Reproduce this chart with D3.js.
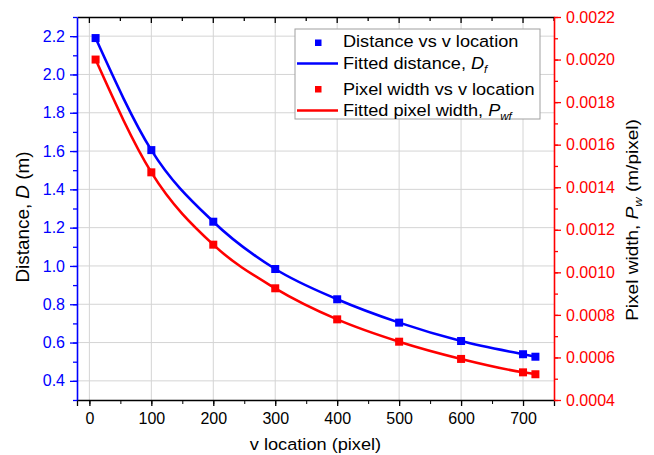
<!DOCTYPE html>
<html>
<head>
<meta charset="utf-8">
<script src="https://cdn.jsdelivr.net/npm/d3@7"></script>
<style>
  html, body { margin: 0; padding: 0; background: #fff; }
  svg { display: block; font-family: "Liberation Sans", Arial, sans-serif; }
</style>
</head>
<body>
<svg id="chart" width="654" height="455"></svg>
<script>
// v location of each measured row (pixel)
const vLocation = [10, 100, 200, 300, 400, 500, 600, 700, 720];
// measured distance D (m)
const distance = [2.19, 1.605, 1.231, 0.984, 0.826, 0.704, 0.608, 0.539, 0.526];
// measured pixel width Pw (m/pixel)
const pixelWidth = [0.00200, 0.00147, 0.00113, 0.000925, 0.000779, 0.000674, 0.000593, 0.000530, 0.000521];

const xTicks = [0, 100, 200, 300, 400, 500, 600, 700];
const dTicks = [0.4, 0.6, 0.8, 1.0, 1.2, 1.4, 1.6, 1.8, 2.0, 2.2];
const pTicks = [0.0004, 0.0006, 0.0008, 0.0010, 0.0012, 0.0014, 0.0016, 0.0018, 0.0020, 0.0022];

const BLUE = "#0000ff", RED = "#ff0000";
const svg = d3.select("#chart");
const L = 77, R = 554, T = 17, B = 400;

const x = d3.scaleLinear().domain([-20, 750]).range([L, R]);
const yD = d3.scaleLinear().domain([0.3, 2.3]).range([B, T]);
const yP = d3.scaleLinear().domain([0.0004, 0.0022]).range([B, T]);

// grid
const grid = svg.append("g").attr("stroke", "#d4d4d4").attr("stroke-width", 1);
grid.selectAll(".gx").data(xTicks).join("line")
  .attr("x1", d => x(d)).attr("x2", d => x(d)).attr("y1", T).attr("y2", B);
grid.selectAll(".gy").data(dTicks).join("line")
  .attr("x1", L).attr("x2", R).attr("y1", d => yD(d)).attr("y2", d => yD(d));

const xMinor = d3.range(0, 751, 50);

// bottom axis
const gB = svg.append("g").attr("transform", `translate(0,${B})`)
  .call(d3.axisBottom(x).tickValues(xMinor).tickSize(4).tickFormat(""));
gB.select(".domain").remove();
svg.append("g").attr("transform", `translate(0,${B})`)
  .call(d3.axisBottom(x).tickValues(xTicks).tickSize(6).tickPadding(7).tickFormat(d3.format("d")))
  .call(g => g.select(".domain").attr("stroke", "#000").attr("stroke-width", 1.3))
  .call(g => g.selectAll("text").attr("font-size", 16).attr("fill", "#000"))
  .call(g => g.selectAll("line").attr("stroke-width", 1.3));

// top axis with inward ticks
svg.append("g").attr("transform", `translate(0,${T})`)
  .call(d3.axisBottom(x).tickValues(xMinor).tickSizeOuter(0)
    .tickSize(0).tickFormat(""))
  .call(g => g.select(".domain").attr("stroke", "#000").attr("stroke-width", 1.3));
svg.append("g").selectAll("line").data(xMinor).join("line")
  .attr("x1", d => x(d)).attr("x2", d => x(d))
  .attr("y1", T).attr("y2", d => T + (d % 100 === 0 ? 6 : 4))
  .attr("stroke", "#000").attr("stroke-width", 1.3);

// left axis (distance)
const dMinor = d3.range(3, 24).map(d => d / 10);
svg.append("g").attr("transform", `translate(${L},0)`)
  .call(d3.axisLeft(yD).tickValues(dMinor).tickSize(4).tickFormat(""))
  .call(g => g.select(".domain").remove())
  .call(g => g.selectAll("line").attr("stroke", BLUE).attr("stroke-width", 1.3));
svg.append("g").attr("transform", `translate(${L},0)`)
  .call(d3.axisLeft(yD).tickValues(dTicks).tickSize(7).tickSizeOuter(0).tickPadding(5).tickFormat(d3.format(".1f")))
  .call(g => g.select(".domain").attr("stroke", BLUE).attr("stroke-width", 1.6))
  .call(g => g.selectAll("line").attr("stroke", BLUE).attr("stroke-width", 1.3))
  .call(g => g.selectAll("text").attr("font-size", 16).attr("fill", BLUE));

// right axis (pixel width)
const pMinor = d3.range(4, 23).map(d => d / 10000);
svg.append("g").attr("transform", `translate(${R},0)`)
  .call(d3.axisRight(yP).tickValues(pMinor).tickSize(4).tickFormat(""))
  .call(g => g.select(".domain").remove())
  .call(g => g.selectAll("line").attr("stroke", RED).attr("stroke-width", 1.3));
svg.append("g").attr("transform", `translate(${R},0)`)
  .call(d3.axisRight(yP).tickValues(pTicks).tickSize(7).tickSizeOuter(0).tickPadding(5).tickFormat(d3.format(".4f")))
  .call(g => g.select(".domain").attr("stroke", RED).attr("stroke-width", 1.6))
  .call(g => g.selectAll("line").attr("stroke", RED).attr("stroke-width", 1.3))
  .call(g => g.selectAll("text").attr("font-size", 16).attr("fill", RED));

// axis titles (slightly widened glyphs)
svg.append("text").attr("transform", `translate(${(L + R) / 2},450) scale(1.07,1)`)
  .attr("text-anchor", "middle").attr("font-size", 17).text("v location (pixel)");

const lt = svg.append("text").attr("transform", `translate(28.5,217) rotate(-90) scale(1.08,1)`)
  .attr("text-anchor", "middle").attr("font-size", 17.5);
lt.append("tspan").text("Distance, ");
lt.append("tspan").attr("font-style", "italic").text("D");
lt.append("tspan").text(" (m)");

const rt = svg.append("text").attr("transform", `translate(637.5,220) rotate(-90) scale(1.12,1)`)
  .attr("text-anchor", "middle").attr("font-size", 17);
rt.append("tspan").text("Pixel width, ");
rt.append("tspan").attr("font-style", "italic").text("P");
rt.append("tspan").attr("font-style", "italic").attr("font-size", 11.5).attr("dy", 4).text("w");
rt.append("tspan").attr("dy", -4).text(" (m/pixel)");

// series
const dRows = vLocation.map((v, i) => ({ v, val: distance[i] }));
const pRows = vLocation.map((v, i) => ({ v, val: pixelWidth[i] }));

const lineD = d3.line().x(d => x(d.v)).y(d => yD(d.val)).curve(d3.curveMonotoneX);
const lineP = d3.line().x(d => x(d.v)).y(d => yP(d.val)).curve(d3.curveMonotoneX);

svg.append("path").datum(pRows).attr("d", lineP).attr("fill", "none")
  .attr("stroke", RED).attr("stroke-width", 2.6);
svg.append("path").datum(dRows).attr("d", lineD).attr("fill", "none")
  .attr("stroke", BLUE).attr("stroke-width", 2.6);

const S = 8;
svg.append("g").selectAll("rect").data(pRows).join("rect")
  .attr("x", d => x(d.v) - S / 2).attr("y", d => yP(d.val) - S / 2)
  .attr("width", S).attr("height", S).attr("fill", RED);
svg.append("g").selectAll("rect").data(dRows).join("rect")
  .attr("x", d => x(d.v) - S / 2).attr("y", d => yD(d.val) - S / 2)
  .attr("width", S).attr("height", S).attr("fill", BLUE);

// legend
const lg = svg.append("g");
lg.append("rect").attr("x", 295).attr("y", 29).attr("width", 245).attr("height", 90)
  .attr("fill", "#fff").attr("stroke", "#a0a0a0").attr("stroke-width", 1);
const fs = 16.5;
const entry = y => lg.append("text").attr("transform", `translate(343,${y}) scale(1.1,1)`).attr("font-size", fs);

lg.append("rect").attr("x", 315).attr("y", 39.5).attr("width", 6.5).attr("height", 6.5).attr("fill", BLUE);
entry(47).text("Distance vs v location");
lg.append("line").attr("x1", 297).attr("x2", 338).attr("y1", 63.5).attr("y2", 63.5)
  .attr("stroke", BLUE).attr("stroke-width", 2.6);
const t2 = entry(68.5);
t2.append("tspan").text("Fitted distance, ");
t2.append("tspan").attr("font-style", "italic").text("D");
t2.append("tspan").attr("font-style", "italic").attr("font-size", 10.5).attr("dy", 4).text("f");
lg.append("rect").attr("x", 315).attr("y", 86).attr("width", 6.5).attr("height", 6.5).attr("fill", RED);
entry(95).text("Pixel width vs v location");
lg.append("line").attr("x1", 297).attr("x2", 338).attr("y1", 110.5).attr("y2", 110.5)
  .attr("stroke", RED).attr("stroke-width", 2.6);
const t4 = entry(115.5);
t4.append("tspan").text("Fitted pixel width, ");
t4.append("tspan").attr("font-style", "italic").text("P");
t4.append("tspan").attr("font-style", "italic").attr("font-size", 10.5).attr("dy", 4).text("wf");
</script>
</body>
</html>
